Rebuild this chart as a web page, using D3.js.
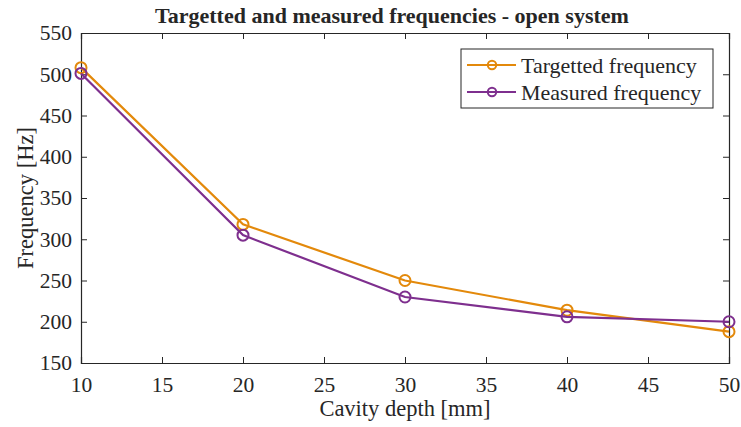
<!DOCTYPE html>
<html>
<head>
<meta charset="utf-8">
<script src="https://cdn.jsdelivr.net/npm/d3@7"></script>
<style>
  html, body { margin: 0; padding: 0; background: #fff; }
  svg { display: block; }
  text { font-family: "Liberation Serif", "Times New Roman", serif; fill: #262626; }
</style>
</head>
<body>
<svg id="chart" width="741" height="427"></svg>
<script>
// Cavity depth in mm
const depths = [10, 20, 30, 40, 50];
// Frequencies in Hz
const targetted = [508, 318, 250, 214, 188];
const measured = [501, 305, 230, 206, 200];
const xTicks = [10, 15, 20, 25, 30, 35, 40, 45, 50];
const yTicks = [150, 200, 250, 300, 350, 400, 450, 500, 550];
const seriesNames = ["Targetted frequency", "Measured frequency"];
const seriesColors = ["#E3890B", "#7E2F8E"];

const svg = d3.select("#chart");
const m = { left: 81, right: 12, top: 33, bottom: 64 };
const W = 741, H = 427;
const pw = W - m.left - m.right, ph = H - m.top - m.bottom;

const x = d3.scaleLinear().domain([10, 50]).range([m.left, m.left + pw]);
const y = d3.scaleLinear().domain([150, 550]).range([m.top + ph, m.top]);

const g = svg.append("g");
const axisColor = "#262626";
const tickLen = 6;
const fontFam = "Liberation Serif, Times New Roman, serif";

// Bottom and left axes with inward ticks
const xAxis = g.append("g").attr("transform", `translate(0,${m.top + ph})`)
  .call(d3.axisBottom(x).tickValues(xTicks).tickSize(-tickLen).tickPadding(14).tickFormat(d3.format("d")));
const yAxis = g.append("g").attr("transform", `translate(${m.left},0)`)
  .call(d3.axisLeft(y).tickValues(yTicks).tickSize(-tickLen).tickPadding(9).tickFormat(d3.format("d")));
// Mirrored top and right axes (ticks only)
const xTop = g.append("g").attr("transform", `translate(0,${m.top})`)
  .call(d3.axisTop(x).tickValues(xTicks).tickSize(-tickLen).tickFormat(""));
const yRight = g.append("g").attr("transform", `translate(${m.left + pw},0)`)
  .call(d3.axisRight(y).tickValues(yTicks).tickSize(-tickLen).tickFormat(""));

[xAxis, yAxis, xTop, yRight].forEach(a => {
  a.selectAll("path.domain").attr("stroke", axisColor).attr("stroke-width", 1.2);
  a.selectAll(".tick line").attr("stroke", axisColor).attr("stroke-width", 1);
  a.selectAll(".tick text").attr("font-size", 21.5).attr("font-family", fontFam).attr("fill", "#262626");
});

// Series lines and circle markers
const series = [targetted, measured];
const line = d3.line().x((d, i) => x(depths[i])).y(d => y(d));
series.forEach((vals, si) => {
  g.append("path").datum(vals)
    .attr("d", line).attr("fill", "none")
    .attr("stroke", seriesColors[si]).attr("stroke-width", 2.2);
  g.selectAll(null).data(vals).enter().append("circle")
    .attr("cx", (d, i) => x(depths[i])).attr("cy", d => y(d)).attr("r", 5.5)
    .attr("fill", "none").attr("stroke", seriesColors[si]).attr("stroke-width", 2);
});

// Title and axis labels
svg.append("text").attr("x", 392).attr("y", 23).attr("text-anchor", "middle")
  .attr("font-size", 22).attr("font-weight", "bold").attr("fill", "#000")
  .text("Targetted and measured frequencies - open system");
svg.append("text").attr("x", m.left + pw / 2).attr("y", 416).attr("text-anchor", "middle")
  .attr("font-size", 22.5).text("Cavity depth [mm]");
svg.append("text").attr("transform", `translate(33,${m.top + ph / 2}) rotate(-90)`)
  .attr("text-anchor", "middle").attr("font-size", 22.5).text("Frequency [Hz]");

// Legend
const lg = svg.append("g").attr("transform", "translate(461,49)");
lg.append("rect").attr("width", 252).attr("height", 59)
  .attr("fill", "#fff").attr("stroke", axisColor).attr("stroke-width", 1);
seriesNames.forEach((name, i) => {
  const yy = 16 + i * 27;
  lg.append("line").attr("x1", 6).attr("x2", 55).attr("y1", yy).attr("y2", yy)
    .attr("stroke", seriesColors[i]).attr("stroke-width", 2.2);
  lg.append("circle").attr("cx", 31).attr("cy", yy).attr("r", 4.2)
    .attr("fill", "none").attr("stroke", seriesColors[i]).attr("stroke-width", 2);
  lg.append("text").attr("x", 60).attr("y", yy + 8).attr("font-size", 22).attr("fill", "#000").text(name);
});
</script>
</body>
</html>
